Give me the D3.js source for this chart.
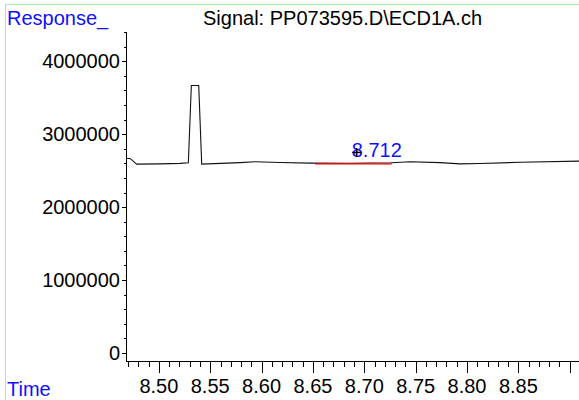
<!DOCTYPE html>
<html>
<head>
<meta charset="utf-8">
<script src="https://cdn.jsdelivr.net/npm/d3@7"></script>
<style>
  html, body { margin: 0; padding: 0; background: #fff; }
  svg { display: block; font-family: "Liberation Sans", Arial, sans-serif; }
</style>
</head>
<body>
<svg id="chart" width="579" height="400"></svg>
<script>
// ---- data ----
const title = "Signal: PP073595.D\\ECD1A.ch";
const yTitle = "Response_";
const xTitle = "Time";
const times = [8.4687, 8.4719, 8.4784, 8.501, 8.5206, 8.5287, 8.5316, 8.5388, 8.5417, 8.579, 8.5936, 8.618, 8.6472, 8.6861, 8.726, 8.7445, 8.7737, 8.7932, 8.8127, 8.8516, 8.909];
const responses = [2667000, 2667000, 2589000, 2592000, 2599000, 2607000, 3667000, 3667000, 2589000, 2610000, 2622000, 2612000, 2603000, 2601000, 2607000, 2622000, 2610000, 2592000, 2598000, 2614000, 2630000];
const baselineTimes = [8.652, 8.7267];
const baselineValues = [2593000, 2593000];
const peakLabel = "8.712";
const peakMarkTime = 8.6926;
const peakMarkValue = 2749000;
const xTickLabels = ["8.50", "8.55", "8.60", "8.65", "8.70", "8.75", "8.80", "8.85"];
const yTickValues = [0, 1000000, 2000000, 3000000, 4000000];

// ---- layout ----
const svg = d3.select("#chart");
const W = 579, H = 400;
const x0 = 126, x1 = 579, yZero = 353, yTop = 32, xAxisY = 361;

const x = d3.scaleLinear().domain([8.468, 8.909]).range([x0, x1]);
const y = d3.scaleLinear().domain([0, 4400000]).range([yZero, yTop]);

// frame
svg.append("rect").attr("x", 5.5).attr("y", 4.5).attr("width", W).attr("height", H)
  .attr("fill", "none").attr("stroke", "#a6eea6").attr("stroke-width", 1);

// titles
svg.append("text").attr("x", 7).attr("y", 25).attr("fill", "#1010ff")
  .attr("font-size", 20).text(yTitle);
svg.append("text").attr("x", 203).attr("y", 25).attr("fill", "#000")
  .attr("font-size", 20).text(title);
svg.append("text").attr("x", 7).attr("y", 396).attr("fill", "#1010ff")
  .attr("font-size", 20).text(xTitle);

// y axis
const yAxisG = svg.append("g");
yAxisG.append("line").attr("x1", x0 + 0.5).attr("x2", x0 + 0.5)
  .attr("y1", yTop).attr("y2", xAxisY).attr("stroke", "#000");
const yMinor = d3.range(0, 4400001, 200000);
yAxisG.selectAll("line.minor").data(yMinor).join("line")
  .attr("class", "minor")
  .attr("x1", x0 - 2).attr("x2", x0)
  .attr("y1", d => Math.round(y(d)) + 0.5).attr("y2", d => Math.round(y(d)) + 0.5)
  .attr("stroke", "#000");
yAxisG.selectAll("line.major").data(yTickValues).join("line")
  .attr("class", "major")
  .attr("x1", x0 - 4).attr("x2", x0)
  .attr("y1", d => Math.round(y(d)) + 0.5).attr("y2", d => Math.round(y(d)) + 0.5)
  .attr("stroke", "#000");
yAxisG.selectAll("text").data(yTickValues).join("text")
  .attr("x", x0 - 6).attr("y", d => y(d)).attr("dy", "0.36em")
  .attr("text-anchor", "end").attr("font-size", 20).attr("fill", "#000")
  .text(d => d3.format("d")(d));

// x axis
const xAxisG = svg.append("g");
xAxisG.append("line").attr("x1", x0).attr("x2", x1)
  .attr("y1", xAxisY + 0.5).attr("y2", xAxisY + 0.5).attr("stroke", "#000");
const xMinor = d3.range(847, 891).map(d => d / 100);
xAxisG.selectAll("line.minor").data(xMinor).join("line")
  .attr("class", "minor")
  .attr("x1", d => Math.round(x(d)) + 0.5).attr("x2", d => Math.round(x(d)) + 0.5)
  .attr("y1", xAxisY).attr("y2", xAxisY + 6).attr("stroke", "#000");
const xMajor = xTickLabels.map(Number).concat([8.90]);
xAxisG.selectAll("line.major").data(xMajor).join("line")
  .attr("class", "major")
  .attr("x1", d => Math.round(x(d)) + 0.5).attr("x2", d => Math.round(x(d)) + 0.5)
  .attr("y1", xAxisY).attr("y2", xAxisY + 12).attr("stroke", "#000");
xAxisG.selectAll("text").data(xTickLabels).join("text")
  .attr("x", d => x(+d)).attr("y", 393)
  .attr("text-anchor", "middle").attr("font-size", 20).attr("fill", "#000")
  .text(d => d);

// trace
const pts = times.map((t, i) => [t, responses[i]]);
svg.append("path").datum(pts)
  .attr("d", d3.line().x(d => x(d[0])).y(d => y(d[1])))
  .attr("fill", "none").attr("stroke", "#111").attr("stroke-width", 1.1);

// integration baseline
const bl = baselineTimes.map((t, i) => [t, baselineValues[i]]);
svg.append("path").datum(bl)
  .attr("d", d3.line().x(d => x(d[0])).y(d => y(d[1])))
  .attr("fill", "none").attr("stroke", "#ff0000").attr("stroke-width", 1.1);

// peak marker & label
const mx = x(peakMarkTime), my = y(peakMarkValue);
svg.append("text").attr("x", mx - 5).attr("y", my + 4.5)
  .attr("font-size", 20).attr("fill", "#1010ff").text(peakLabel);
svg.append("line").attr("x1", mx - 4.5).attr("x2", mx + 4.5).attr("y1", my).attr("y2", my)
  .attr("stroke", "#000").attr("stroke-width", 1.5);
svg.append("line").attr("x1", mx).attr("x2", mx).attr("y1", my - 4.5).attr("y2", my + 4.5)
  .attr("stroke", "#000").attr("stroke-width", 1.5);
</script>
</body>
</html>
